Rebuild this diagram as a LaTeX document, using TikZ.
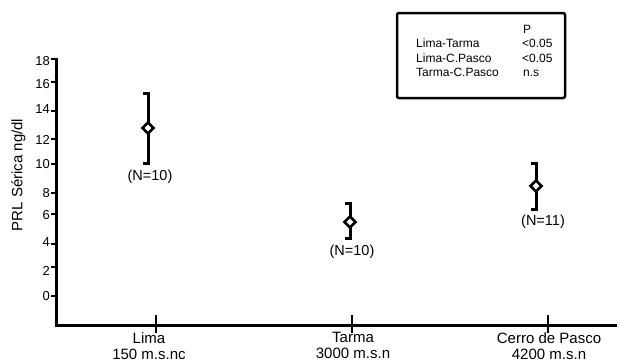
\documentclass[tikz,border=0pt]{standalone}
\usepackage{fontspec}
\setmainfont{Liberation Sans}
\usetikzlibrary{shapes.geometric}
\begin{document}
\begin{tikzpicture}[x=1pt,y=-1pt,
  axisline/.style={line width=3pt},
  ticky/.style={line width=2.2pt},
  tickx/.style={line width=2.6pt},
  errbar/.style={line width=3pt, miter limit=10},
  mean/.style={shape=diamond, draw, fill=white, line width=2.6pt, minimum width=12pt, minimum height=12pt, inner sep=0pt},
  ylab/.style={anchor=base east, inner sep=0pt, font=\fontsize{13}{15}\selectfont},
  xlab/.style={anchor=base, inner sep=0pt, font=\fontsize{15}{18}\selectfont},
  nlab/.style={anchor=base, inner sep=0pt, font=\fontsize{14.5}{17}\selectfont},
  boxtxt/.style={anchor=base west, inner sep=0pt, font=\fontsize{12}{14}\selectfont},
  legendbox/.style={draw, line width=2.5pt, rounded corners=2pt}
]
\useasboundingbox (0,0) rectangle (620,362);

% axes
\coordinate (ytop) at (56,58);
\coordinate (origin) at (56,325);
\coordinate (xend) at (617,325);
\draw[axisline] (ytop) -- (origin) -- (xend);

% y ticks and labels
\foreach \t/\lab/\ly in {59/18/61, 82/16/84, 111/14/109, 139/12/140, 164/10/164, 193/8/193, 214/6/215, 244/4/242, 267/2/271, 296/0/296}{
  \coordinate (yt\lab) at (51,\t);
  \coordinate (ya\lab) at (56,\t);
  \draw[ticky] (yt\lab) -- (ya\lab);
  \node[ylab] (yl\lab) at (50,\ly+4.7) {\lab};
}

% y axis title
\node[rotate=90, anchor=center, inner sep=0pt, font=\fontsize{15}{18}\selectfont] (ytitle) at (18.5,175) {PRL Sérica ng/dl};

% x ticks
\foreach \name/\xx in {lima/156, tarma/352, cerro/548}{
  \coordinate (\name xt) at (\xx,315);
  \coordinate (\name xb) at (\xx,333);
  \draw[tickx] (\name xt) -- (\name xb);
}

% x labels
\node[xlab] (limaA) at (149,343.5) {Lima};
\node[xlab] (limaB) at (149,359.5) {150 m.s.nc};
\node[xlab] (tarmaA) at (353,342) {Tarma};
\node[xlab] (tarmaB) at (353,358) {3000 m.s.n};
\node[xlab] (cerroA) at (549,343.5) {Cerro de Pasco};
\node[xlab] (cerroB) at (549,359.5) {4200 m.s.n};

% error bars
\foreach \name/\xx/\yt/\yb/\ym/\nx/\ny/\nn in {lima/148/93/163/128/150/177/10, tarma/350/203/238/222/352/252/10, cerro/536/163/209/186/543/222/11}{
  \coordinate (\name T) at (\xx,\yt);
  \coordinate (\name Tc) at (\xx-5,\yt);
  \coordinate (\name B) at (\xx,\yb);
  \coordinate (\name Bc) at (\xx-5,\yb);
  \draw[errbar] (\name Tc) -- (\name T) -- (\name B) -- (\name Bc);
  \node[mean] (\name M) at (\xx,\ym) {};
  \node[nlab] (\name N) at (\nx,\ny+3.9) {(N=\nn)};
}

% legend box
\coordinate (boxNW) at (397,13);
\coordinate (boxSE) at (565,98);
\draw[legendbox] (boxNW) rectangle (boxSE);
\node[boxtxt] (pcol) at (523,33.3) {P};
\node[boxtxt] (r1a) at (416,47.3) {Lima-Tarma};
\node[boxtxt] (r1b) at (522,47.3) {<0.05};
\node[boxtxt] (r2a) at (416,62.3) {Lima-C.Pasco};
\node[boxtxt] (r2b) at (522,62.3) {<0.05};
\node[boxtxt] (r3a) at (416,76.3) {Tarma-C.Pasco};
\node[boxtxt] (r3b) at (523,76.3) {n.s};
\end{tikzpicture}
\end{document}
